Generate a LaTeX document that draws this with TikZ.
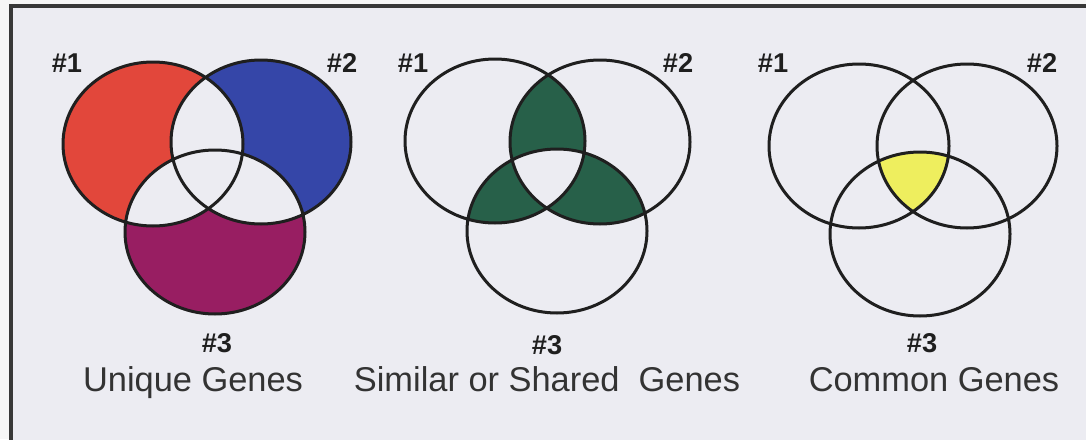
\documentclass[tikz,border=0pt]{standalone}
\usepackage{fontspec}
\setmainfont{Liberation Sans}
\usepackage{xcolor}
\usetikzlibrary{positioning}

\definecolor{paper}{HTML}{F6F6F6}
\definecolor{panelbg}{HTML}{ECECF2}
\definecolor{uniqred}{HTML}{E2473B}
\definecolor{uniqblue}{HTML}{3546A8}
\definecolor{uniqpurple}{HTML}{981E62}
\definecolor{sharedgreen}{HTML}{276049}
\definecolor{commonyellow}{HTML}{EEEE5E}

\newcommand{\venn}[1]{(#1) ellipse [x radius=45pt, y radius=41pt]}

\begin{document}
\begin{tikzpicture}[x=0.5pt,y=-0.5pt]

\tikzstyle{ring}=[draw=black!88,line width=1.5pt]
\tikzstyle{setno}=[font=\bfseries\fontsize{13.6}{15}\selectfont,text=black!88,inner sep=0pt,text height=9.7pt,text depth=0pt]
\tikzstyle{caption}=[font=\fontsize{17.2}{19}\selectfont,text=black!80,inner sep=0pt,text height=12.3pt,text depth=3.6pt]

\useasboundingbox (0,0) rectangle (1086,439);
\fill[paper] (0,0) rectangle (1086,439);
\filldraw[fill=panelbg,draw=black!78,line width=1.6pt] (11,6) rectangle (1100,460);

% set centres
\coordinate (u1) at (153,144);
\coordinate (u2) at (261,142);
\coordinate (u3) at (215,232);

\coordinate (s1) at (495,141);
\coordinate (s2) at (600,142);
\coordinate (s3) at (557,231);

\coordinate (c1) at (859,146);
\coordinate (c2) at (967,146);
\coordinate (c3) at (920,234);

% unique genes
\fill[uniqred] \venn{u1};
\fill[uniqblue] \venn{u2};
\fill[uniqpurple] \venn{u3};
\begin{scope}
  \clip \venn{u1};
  \fill[panelbg] \venn{u2};
  \fill[panelbg] \venn{u3};
\end{scope}
\begin{scope}
  \clip \venn{u2};
  \fill[panelbg] \venn{u3};
\end{scope}
\draw[ring] \venn{u1} \venn{u2} \venn{u3};

% similar or shared genes
\begin{scope}
  \clip \venn{s1};
  \fill[sharedgreen] \venn{s2};
  \fill[sharedgreen] \venn{s3};
\end{scope}
\begin{scope}
  \clip \venn{s2};
  \fill[sharedgreen] \venn{s3};
\end{scope}
\begin{scope}
  \clip \venn{s1};
  \clip \venn{s2};
  \fill[panelbg] \venn{s3};
\end{scope}
\draw[ring] \venn{s1} \venn{s2} \venn{s3};

% common genes
\begin{scope}
  \clip \venn{c1};
  \clip \venn{c2};
  \fill[commonyellow] \venn{c3};
\end{scope}
\draw[ring] \venn{c1} \venn{c2} \venn{c3};

% labels
\node (u1no) [setno] at (67,63) {\#1};
\node (u2no) [setno] at (342,63) {\#2};
\node (u3no) [setno] at (217,343) {\#3};
\node (unique) [caption,below=6.5pt of u3no,xshift=-12pt] {Unique Genes};

\node (s1no) [setno] at (413,63) {\#1};
\node (s2no) [setno] at (678,63) {\#2};
\node (s3no) [setno] at (547,345) {\#3};
\node (shared) [caption,below=5.5pt of s3no] {Similar or Shared~ Genes};

\node (c1no) [setno] at (773,63) {\#1};
\node (c2no) [setno] at (1042,63) {\#2};
\node (c3no) [setno] at (922,343) {\#3};
\node (common) [caption,below=6.5pt of c3no,xshift=6pt] {Common Genes};

\end{tikzpicture}
\end{document}
